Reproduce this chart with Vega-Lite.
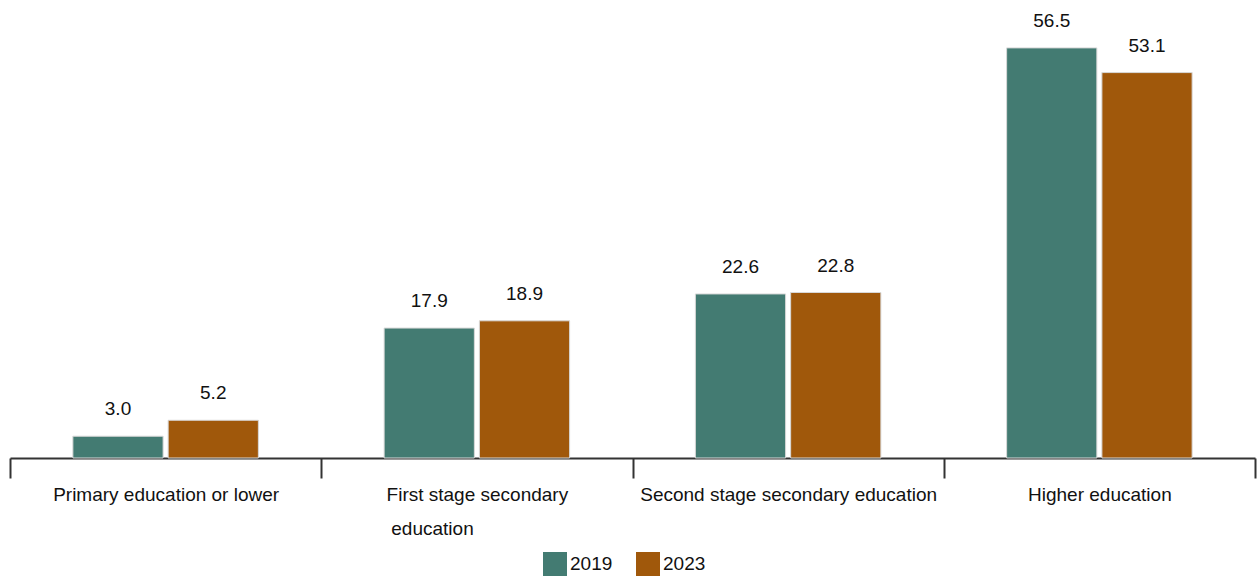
{
  "$schema": "https://vega.github.io/schema/vega-lite/v6.json",
  "width": 1245,
  "height": 458,
  "padding": {"left": 10, "top": 0, "right": 2, "bottom": 121},
  "autosize": {"type": "none"},
  "background": "white",
  "config": {"view": {"stroke": null}, "font": "Liberation Sans"},
  "data": {"values": [
    {"level": "Primary education or lower", "year": "2019", "value": 3.0},
    {"level": "Primary education or lower", "year": "2023", "value": 5.2},
    {"level": "First stage secondary education", "year": "2019", "value": 17.9},
    {"level": "First stage secondary education", "year": "2023", "value": 18.9},
    {"level": "Second stage secondary education", "year": "2019", "value": 22.6},
    {"level": "Second stage secondary education", "year": "2023", "value": 22.8},
    {"level": "Higher education", "year": "2019", "value": 56.5},
    {"level": "Higher education", "year": "2023", "value": 53.1}
  ]},
  "encoding": {
    "x": {
      "field": "level", "type": "nominal", "sort": null,
      "scale": {"paddingInner": 0, "paddingOuter": 0},
      "axis": {
        "title": null, "labelAngle": 0, "tickBand": "extent",
        "domainColor": "#333333", "domainWidth": 2,
        "tickColor": "#333333", "tickWidth": 2, "tickSize": 20,
        "labelFontSize": 19, "labelColor": "#111111", "labelPadding": 7,
        "labelLineHeight": 34, "labelBaseline": "top", "labelLimit": 0,
        "labelExpr": "datum.value == 'First stage secondary education' ? ['First stage secondary', 'education\u00a0\u00a0\u00a0\u00a0\u00a0\u00a0\u00a0\u00a0\u00a0\u00a0\u00a0\u00a0\u00a0\u00a0\u00a0\u00a0\u00a0\u200b'] : datum.value"
      }
    },
    "xOffset": {"field": "year", "type": "nominal", "scale": {"paddingInner": 0.053, "paddingOuter": 0.66}},
    "y": {"field": "value", "type": "quantitative", "scale": {"domain": [0, 63.1], "nice": false}, "axis": null}
  },
  "layer": [
    {
      "mark": {"type": "bar", "stroke": "#d8d8d8", "strokeWidth": 1},
      "encoding": {
        "color": {
          "field": "year", "type": "nominal",
          "scale": {"domain": ["2019", "2023"], "range": ["#437B72", "#A0580B"]},
          "legend": {
            "title": null, "orient": "none", "direction": "horizontal",
            "legendX": 533, "legendY": 552,
            "symbolType": "square", "symbolSize": 576, "symbolStrokeWidth": 0,
            "labelFontSize": 19, "labelColor": "#111111", "labelOffset": 3,
            "columnPadding": 23
          }
        }
      }
    },
    {
      "mark": {"type": "text", "fontSize": 19, "color": "#111111", "baseline": "alphabetic", "dy": -21},
      "encoding": {"text": {"field": "value", "type": "quantitative", "format": ".1f"}}
    }
  ]
}
